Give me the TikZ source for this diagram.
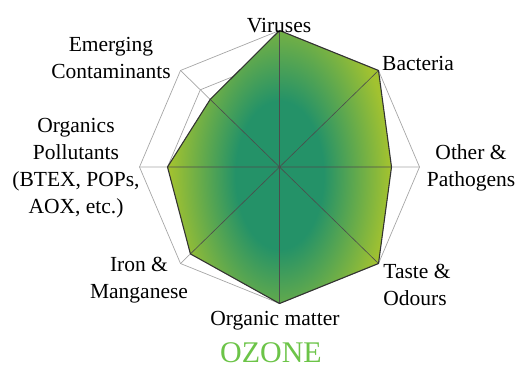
\documentclass[tikz,border=0pt]{standalone}
\usepackage{fontspec}
\setmainfont{Liberation Serif}
\definecolor{ozcore}{RGB}{36,146,104}
\definecolor{ozedge}{RGB}{162,194,48}
\definecolor{ozgreen}{RGB}{108,196,72}
\pgfdeclareradialshading{ozone}{\pgfpointorigin}{color(0bp)=(ozcore); color(10bp)=(ozcore); color(25bp)=(ozedge); color(50bp)=(ozedge)}
\begin{document}
\begin{tikzpicture}[x=1pt,y=1pt,
  grid/.style={draw=black!35,line width=0.7pt},
  spoke/.style={draw=black!70,line width=0.6pt},
  rim/.style={draw=black!80,line width=1.1pt,line join=round},
  label/.style={font=\fontsize{21.5}{27}\selectfont,align=center,inner sep=0pt}]
\useasboundingbox (0,0) rectangle (521,367);
\begin{scope}[shift={(279.5,200)}]
\coordinate (O) at (0,0);
% outer octagon
\coordinate (v1) at (90:140 and 136.5);
\coordinate (v2) at (45:140 and 136.5);
\coordinate (v3) at (0:140 and 136.5);
\coordinate (v4) at (-45:140 and 136.5);
\coordinate (v5) at (-90:140 and 136.5);
\coordinate (v6) at (-135:140 and 136.5);
\coordinate (v7) at (180:140 and 136.5);
\coordinate (v8) at (135:140 and 136.5);
% 0.8 octagon
\coordinate (g1) at (90:112 and 109.2);
\coordinate (g2) at (45:112 and 109.2);
\coordinate (g3) at (0:112 and 109.2);
\coordinate (g4) at (-45:112 and 109.2);
\coordinate (g5) at (-90:112 and 109.2);
\coordinate (g6) at (-135:112 and 109.2);
\coordinate (g7) at (180:112 and 109.2);
\coordinate (g8) at (135:112 and 109.2);
% ozone values
\coordinate (p1) at (90:140 and 136.5);
\coordinate (p2) at (45:140 and 136.5);
\coordinate (p3) at (0:112 and 109.2);
\coordinate (p4) at (-45:140 and 136.5);
\coordinate (p5) at (-90:140 and 136.5);
\coordinate (p6) at (-135:126 and 122.9);
\coordinate (p7) at (180:112 and 109.2);
\coordinate (p8) at (135:98 and 95.6);

\draw[grid] (v1) -- (v2) -- (v3) -- (v4) -- (v5) -- (v6) -- (v7) -- (v8) -- cycle;
\draw[grid] (g1) -- (g2) -- (g3) -- (g4) -- (g5) -- (g6) -- (g7) -- (g8) -- cycle;
\draw[grid] (v1) -- (v5) (v2) -- (v6) (v3) -- (v7) (v4) -- (v8);

\begin{scope}
\clip (p1) -- (p2) -- (p3) -- (p4) -- (p5) -- (p6) -- (p7) -- (p8) -- cycle;
\fill[ozedge] (-150,-150) rectangle (150,150);
\shade[shading=ozone] (0,-8) ellipse (110 and 185);
\end{scope}
\draw[spoke] (p1) -- (p5) (p2) -- (p6) (p3) -- (p7) (p4) -- (p8);
\draw[rim] (p1) -- (p2) -- (p3) -- (p4) -- (p5) -- (p6) -- (p7) -- (p8) -- cycle;
\end{scope}

\node[label] (viruses) at (279,341) {Viruses};
\node[label] (bacteria) at (418,304) {Bacteria};
\node[label] (other) at (471,199) {Other \&\\Pathogens};
\node[label,align=left] (taste) at (417,82) {Taste \&\\Odours};
\node[label] (organic) at (275,46) {Organic matter};
\node[label] (emerging) at (111,309) {Emerging\\Contaminants};
\node[label] (pollutants) at (76,199) {Organics\\Pollutants\\(BTEX, POPs,\\AOX, etc.)};
\node[label] (iron) at (139,87) {Iron \&\\Manganese};
\node[font=\fontsize{30}{34}\selectfont,text=ozgreen,inner sep=0pt,anchor=base] (ozone) at (271,5) {OZONE};
\end{tikzpicture}
\end{document}
